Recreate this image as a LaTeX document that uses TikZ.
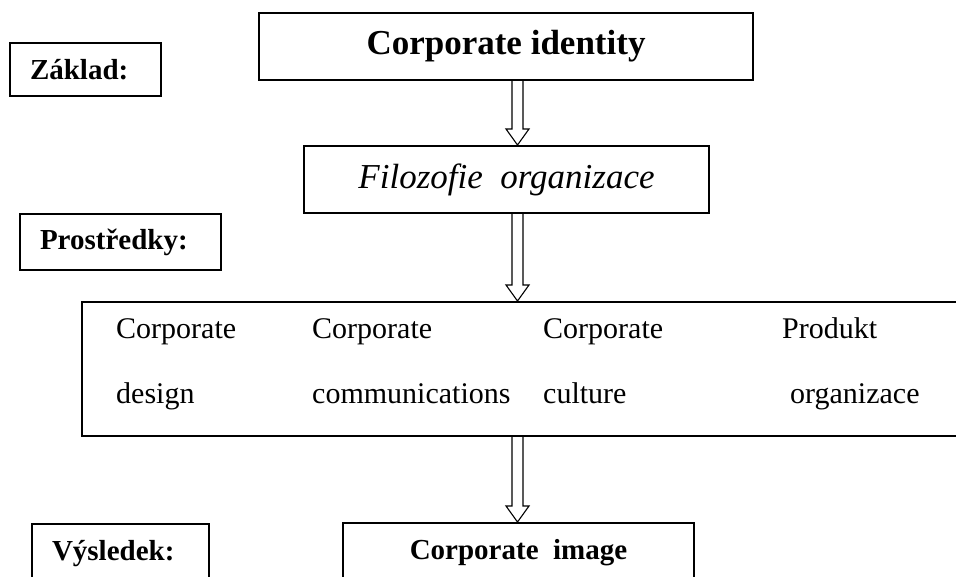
\documentclass[tikz,border=0pt]{standalone}
\usepackage{fontspec}
\setmainfont{Liberation Serif}
\usetikzlibrary{calc}

\tikzset{
  box/.style={draw=black, line width=2pt, fill=white, inner sep=0pt},
  labelbox/.style={box, align=left, inner xsep=20pt, inner ysep=0pt},
  boldlbl/.style={font=\fontsize{29}{34}\selectfont\bfseries},
  plain/.style={font=\fontsize{30}{36}\selectfont, inner sep=0pt, anchor=base west},
  arrowline/.style={draw=black, line width=1.1pt, line join=miter, fill=white},
}

% hollow block arrow pointing down from #1 to #2
\newcommand\blockarrow[2]{%
  \path[arrowline] let \p1=(#1), \p2=(#2) in
    (\x1-5.5,\y1) -- (\x1-5.5,\y2+16) -- (\x1-11.5,\y2+16) -- (\x2,\y2)
    -- (\x1+11.5,\y2+16) -- (\x1+5.5,\y2+16) -- (\x1+5.5,\y1);
}

\begin{document}
\begin{tikzpicture}[x=1pt, y=-1pt]
  \useasboundingbox (0,0) rectangle (956,576);
  \clip (0,0) rectangle (956,576);
  \fill[white] (0,0) rectangle (956,576);

  % side labels
  \node[labelbox, boldlbl, text width=111pt, minimum height=53pt] (zaklad) at (85.5,69.5) {Základ:};
  \node[labelbox, boldlbl, text width=161pt, minimum height=56pt] (prostredky) at (120.5,242) {Prostředky:};
  \node[labelbox, boldlbl, text width=137pt, minimum height=60pt] (vysledek) at (120.5,554) {Výsledek:};

  % main chain
  \node[box, minimum width=494pt, minimum height=67pt,
        font=\fontsize{35}{42}\selectfont\bfseries] (ci) at (506,46.5) {Corporate identity};
  \node[box, minimum width=405pt, minimum height=67pt,
        font=\fontsize{35}{42}\selectfont\itshape] (filo) at (506.5,179.5) {Filozofie\ \ organizace};
  \node[box, minimum width=888pt, minimum height=134pt] (tools) at (526,369) {};
  \node[box, minimum width=351pt, minimum height=60pt, boldlbl] (image) at (518.5,553) {Corporate\ \ image};

  % contents of the tools box
  \node[plain] (d1) at (116,338) {Corporate};
  \node[plain] (d2) at (116,403) {design};
  \node[plain] (m1) at (312,338) {Corporate};
  \node[plain] (m2) at (312,403) {communications};
  \node[plain] (c1) at (543,338) {Corporate};
  \node[plain] (c2) at (543,403) {culture};
  \node[plain] (p1) at (782,338) {Produkt};
  \node[plain] (p2) at (790,403) {organizace};

  % arrows
  \coordinate (axis) at (517.5,0);
  \blockarrow{ci.south -| axis}{filo.north -| axis}
  \blockarrow{filo.south -| axis}{tools.north -| axis}
  \blockarrow{tools.south -| axis}{image.north -| axis}
\end{tikzpicture}
\end{document}
